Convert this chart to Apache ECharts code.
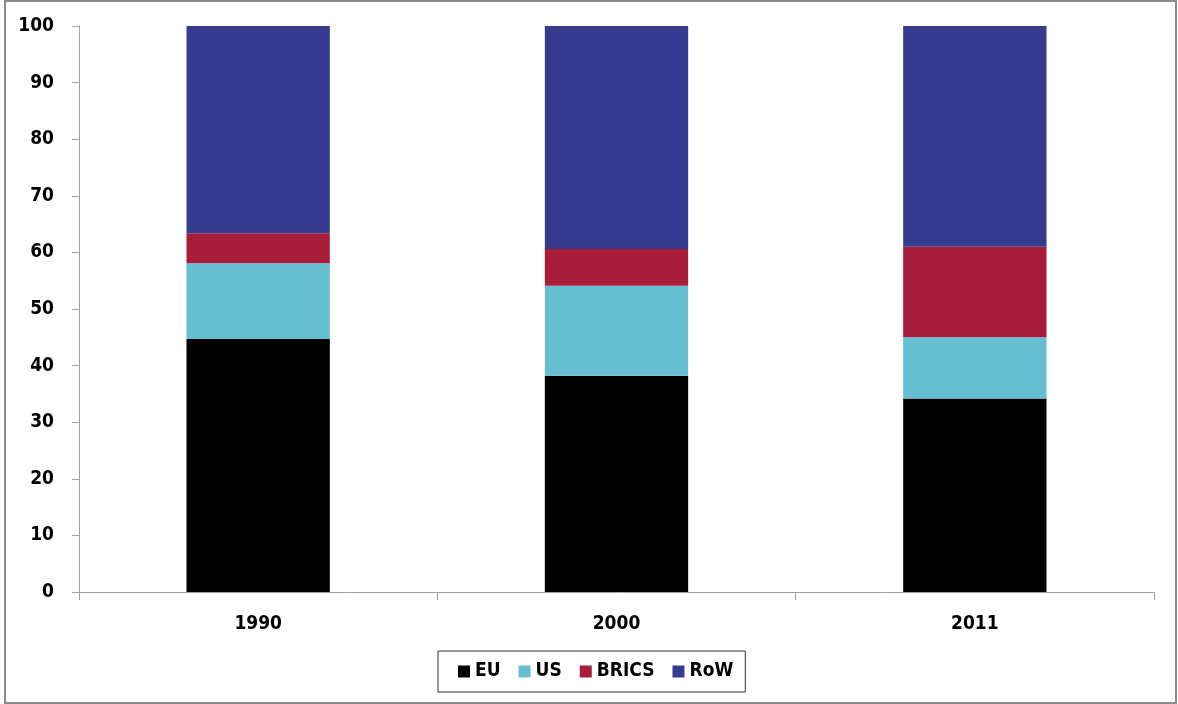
<!DOCTYPE html>
<html>
<head>
<meta charset="utf-8">
<script src="https://cdn.jsdelivr.net/npm/echarts@6/dist/echarts.min.js"></script>
<style>
  html, body { margin: 0; padding: 0; background: #fff; }
  #chart { width: 1178px; height: 704px; }
</style>
</head>
<body>
<div id="chart"></div>
<script>
// Shares (%) by region for each year
const years = ['1990', '2000', '2011'];
const euValues = [44.7, 38.2, 34.2];
const usValues = [13.4, 15.9, 10.8];
const bricsValues = [5.3, 6.5, 16.0];
const rowValues = [36.6, 39.4, 39.0];
const yTicks = { min: 0, max: 100, interval: 10 };

const labelFont = {
  fontFamily: '"DejaVu Sans Condensed", "DejaVu Sans", sans-serif',
  fontWeight: 'bold',
  fontSize: 19,
  color: '#000'
};

const chart = echarts.init(document.getElementById('chart'), null, { renderer: 'canvas' });

function stackSeries(name, data, color) {
  return {
    name: name,
    type: 'bar',
    stack: 'total',
    data: data,
    barWidth: '40%',
    itemStyle: { color: color },
    emphasis: { disabled: true }
  };
}

chart.setOption({
  animation: false,
  backgroundColor: '#fff',
  graphic: [{
    type: 'rect',
    shape: { x: 5, y: 1, width: 1171, height: 702 },
    style: { fill: 'none', stroke: '#8c8c8c', lineWidth: 2 },
    silent: true
  }],
  grid: { left: 79, right: 24, top: 26, bottom: 112, containLabel: false },
  legend: {
    bottom: 12,
    left: 438,
    icon: 'rect',
    itemWidth: 12,
    itemHeight: 12,
    itemGap: 18,
    padding: [11, 12, 11, 20],
    borderColor: '#333',
    borderWidth: 1,
    backgroundColor: '#fff',
    textStyle: Object.assign({}, labelFont, { fontSize: 19 }),
    data: ['EU', 'US', 'BRICS', 'RoW']
  },
  xAxis: {
    type: 'category',
    data: years,
    axisLine: { lineStyle: { color: '#a0a0a0', width: 1 } },
    axisTick: { show: true, length: 8, lineStyle: { color: '#a0a0a0' } },
    axisLabel: Object.assign({ margin: 23 }, labelFont),
    splitLine: { show: false }
  },
  yAxis: {
    type: 'value',
    min: yTicks.min,
    max: yTicks.max,
    interval: yTicks.interval,
    axisLine: { show: true, lineStyle: { color: '#a0a0a0', width: 1 } },
    axisTick: { show: true, length: 7, lineStyle: { color: '#a0a0a0' } },
    axisLabel: Object.assign({ margin: 25 }, labelFont),
    splitLine: { show: false }
  },
  series: [
    stackSeries('EU', euValues, '#000000'),
    stackSeries('US', usValues, '#66bfd1'),
    stackSeries('BRICS', bricsValues, '#a81c3c'),
    stackSeries('RoW', rowValues, '#363b8f')
  ]
});
</script>
</body>
</html>
